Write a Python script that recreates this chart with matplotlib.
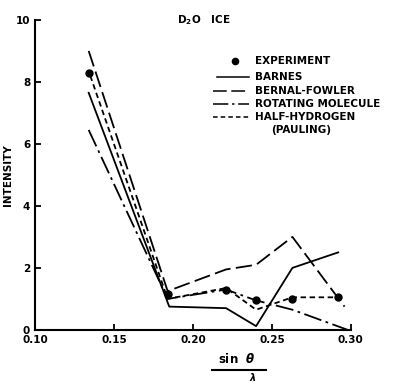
import matplotlib.pyplot as plt
from matplotlib.lines import Line2D

# data
x_exp = [0.134, 0.184, 0.221, 0.240, 0.263, 0.292]
y_exp = [8.3, 1.15, 1.3, 0.95, 1.0, 1.05]

x_barnes = [0.134, 0.185, 0.221, 0.240, 0.263, 0.292]
y_barnes = [7.65, 0.75, 0.7, 0.12, 2.0, 2.5]

x_bernal = [0.134, 0.184, 0.221, 0.240, 0.263, 0.296]
y_bernal = [9.0, 1.25, 1.95, 2.1, 3.0, 0.75]

x_rot = [0.134, 0.184, 0.221, 0.240, 0.263, 0.298]
y_rot = [6.45, 1.0, 1.3, 0.95, 0.65, 0.0]

x_half = [0.135, 0.184, 0.221, 0.240, 0.263, 0.292]
y_half = [8.2, 1.0, 1.35, 0.65, 1.05, 1.05]

xticks = [0.10, 0.15, 0.20, 0.25, 0.30]
yticks = [0, 2, 4, 6, 8, 10]

plt.rcParams['font.family'] = 'DejaVu Sans'
plt.rcParams['font.weight'] = 'bold'

fig = plt.figure(figsize=(4.07, 3.84), dpi=100)
ax = fig.add_axes([0.086, 0.141, 0.776, 0.807])

lw = 1.3
ax.plot(x_barnes, y_barnes, color='black', lw=lw)
ax.plot(x_bernal, y_bernal, color='black', lw=lw, dashes=(9, 3))
ax.plot(x_rot, y_rot, color='black', lw=lw, dashes=(10, 2.5, 1.5, 2.5))
ax.plot(x_half, y_half, color='black', lw=lw, dashes=(3, 2))
ax.plot(x_exp, y_exp, 'o', color='black', ms=5)

ax.set_xlim(0.10, 0.30)
ax.set_ylim(0, 10)
ax.set_xticks(xticks)
ax.set_xticklabels(['%.2f' % v for v in xticks])
ax.set_yticks(yticks)
ax.tick_params(direction='in', length=4, width=1.3, labelsize=7.5)
for s in ['top', 'right']:
    ax.spines[s].set_visible(False)
for s in ['left', 'bottom']:
    ax.spines[s].set_linewidth(1.5)
ax.set_ylabel('INTENSITY', fontsize=7.5, fontweight='bold')
ax.yaxis.set_label_coords(-0.07, 0.5)

# title
ax.text(0.535, 0.998, r'$\mathbf{D_2O}$   ICE', transform=ax.transAxes,
        ha='center', va='center', fontsize=7.5, fontweight='bold')

# x label: sin theta over lambda
ax.text(0.64, -0.093, r'sin  $\theta$', transform=ax.transAxes, ha='center',
        va='center', fontsize=8.5, fontweight='bold')
ax.add_line(Line2D([0.56, 0.73], [-0.128, -0.128], transform=ax.transAxes,
                   color='black', lw=1.5, clip_on=False))
ax.text(0.69, -0.152, r'$\lambda$', transform=ax.transAxes, ha='center',
        va='center', fontsize=7)

# legend drawn by hand
labels = ['EXPERIMENT', 'BARNES', 'BERNAL-FOWLER', 'ROTATING MOLECULE',
          'HALF-HYDROGEN']
styles = [None, (None,), (9, 3), (10, 2.5, 1.5, 2.5), (3, 2)]
lx0, lx1, tx = 0.565, 0.678, 0.697
ys = [0.868, 0.816, 0.771, 0.729, 0.687]
for lab, st, yy in zip(labels, styles, ys):
    if st is None:
        ax.plot([0.633], [yy], 'o', color='black', ms=4.5,
                transform=ax.transAxes, clip_on=False)
    elif st == (None,):
        ax.add_line(Line2D([lx0 + 0.01, lx1], [yy, yy], transform=ax.transAxes,
                           color='black', lw=1.1, clip_on=False))
    else:
        ax.add_line(Line2D([lx0, lx1], [yy, yy], transform=ax.transAxes,
                           color='black', lw=1.1, dashes=st, clip_on=False))
    ax.text(tx, yy, lab, transform=ax.transAxes, ha='left', va='center',
            fontsize=7.5, fontweight='bold')
ax.text(tx + 0.05, 0.645, '(PAULING)', transform=ax.transAxes, ha='left',
        va='center', fontsize=7.5, fontweight='bold')

fig.savefig('out.png', dpi=100)
